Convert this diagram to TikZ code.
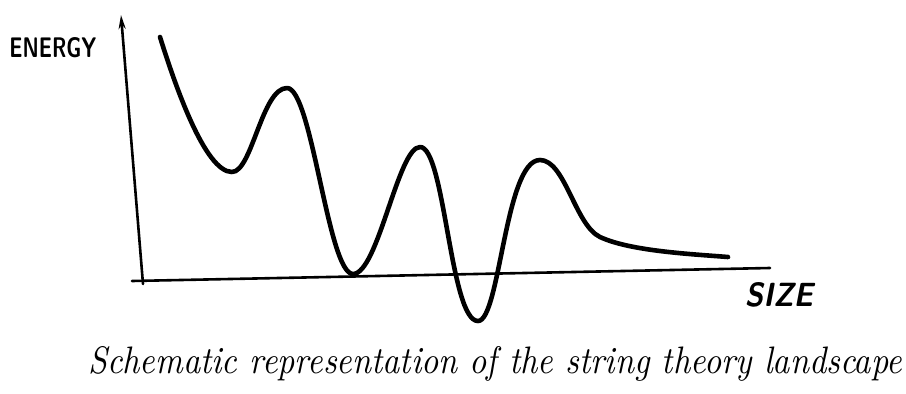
\documentclass[tikz,border=0pt]{standalone}
\usepackage{graphicx}
\usetikzlibrary{arrows.meta}
\begin{document}
\begin{tikzpicture}[x=1pt,y=-1pt,
  axisline/.style={line width=2.6pt, line cap=round},
  curveline/.style={line width=4.6pt, line cap=round, line join=round},
  lbl/.style={inner sep=0pt}]
\useasboundingbox[fill=white] (0,0) rectangle (906,394);
\coordinate (yb) at (143,284);
\coordinate (yt) at (121,15);
\coordinate (xl) at (132,281);
\coordinate (xr) at (770,268);
\draw[axisline,-{Stealth[length=14pt,width=7pt]}] (yb) -- (yt);
\draw[axisline] (xl) -- (xr);
\coordinate (p0) at (160,37);
\coordinate (m1) at (232,172);
\coordinate (h1) at (287,88);
\coordinate (m2) at (353,274);
\coordinate (h2) at (420,147);
\coordinate (m3) at (478,321);
\coordinate (h3) at (540,160);
\coordinate (t1) at (600,237);
\coordinate (pe) at (728,257);
\draw[curveline] (p0) .. controls (175,85) and (205,172) .. (m1)
  .. controls (252,172) and (262,88) .. (h1)
  .. controls (312,88) and (328,274) .. (m2)
  .. controls (378,274) and (398,147) .. (h2)
  .. controls (445,147) and (450,321) .. (m3)
  .. controls (500,321) and (505,160) .. (h3)
  .. controls (565,160) and (575,225) .. (t1)
  .. controls (630,251) and (690,254) .. (pe);
\node[lbl] (energy) at (53,48) {\resizebox{87pt}{20pt}{\sffamily\bfseries ENERGY}};
\node[lbl] (size) at (779,295) {\resizebox{68pt}{24pt}{\sffamily\bfseries\itshape SIZE}};
\node[lbl,anchor=base west] (caption) at (88,373)
  {\resizebox{814pt}{27pt}{\itshape Schematic representation of the string theory landscape}};
\end{tikzpicture}
\end{document}
